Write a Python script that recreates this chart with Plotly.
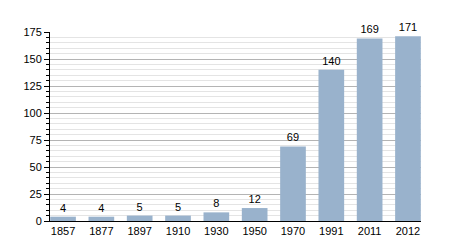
import plotly.graph_objects as go

years = ["1857", "1877", "1897", "1910", "1930", "1950", "1970", "1991", "2011", "2012"]
values = [4, 4, 5, 5, 8, 12, 69, 140, 169, 171]
y_ticks = [0, 25, 50, 75, 100, 125, 150, 175]

fig = go.Figure(go.Bar(
    x=years, y=values, text=[str(v) for v in values],
    textposition="outside", cliponaxis=False,
    textfont=dict(size=11, color="#000"),
    marker=dict(color="#99b2cc", line=dict(width=0)),
    width=0.67,
))

fig.update_layout(
    width=450, height=250,
    margin=dict(l=50, r=29, t=32, b=29),
    paper_bgcolor="white", plot_bgcolor="white",
    font=dict(family="Liberation Sans, Arial, sans-serif", size=11, color="#000"),
    showlegend=False,
    xaxis=dict(type="category", range=[-0.34, 9.34], showline=True, linecolor="#000",
               linewidth=1, ticks="", showgrid=False, tickfont=dict(size=11)),
    yaxis=dict(range=[0, 175], tickvals=y_ticks, showline=True, linecolor="#000",
               linewidth=1, ticks="outside", ticklen=5, tickcolor="#000",
               showgrid=True, gridcolor="#b4b4b4", gridwidth=1, zeroline=False,
               tickfont=dict(size=11),
               minor=dict(dtick=5, ticks="outside", ticklen=3, tickcolor="#000",
                          showgrid=True, gridcolor="#e4e4e4", gridwidth=1)),
)

fig.write_html("out.html")
